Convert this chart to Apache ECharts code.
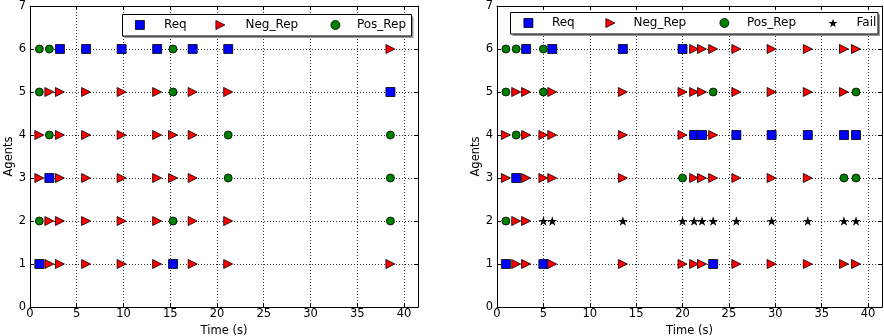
<!DOCTYPE html>
<html>
<head>
<meta charset="utf-8">
<script src="https://cdn.jsdelivr.net/npm/echarts@6/dist/echarts.min.js"></script>
<style>
html,body{margin:0;padding:0;background:#fff;}
#chart{width:884px;height:336px;}
</style>
</head>
<body>
<div id="chart"></div>
<script>
// ---- Data (R = Req, N = Neg_Rep, P = Pos_Rep, F = Fail) ----
const xTicks = [0, 5, 10, 15, 20, 25, 30, 35, 40];
const yTicks = [0, 1, 2, 3, 4, 5, 6, 7];
const seriesNames = ['Req', 'Neg_Rep', 'Pos_Rep', 'Fail'];
const seriesCodes = ['R', 'N', 'P', 'F'];

const leftTimes = [1.0, 2.07, 3.2, 6.0, 9.8, 13.6, 15.3, 17.4, 21.2, 38.55];
const leftAgent1 = ['R','N','N','N','N','N','R','N','N','N'];
const leftAgent2 = ['P','N','N','N','N','N','P','N','N','P'];
const leftAgent3 = ['N','R','N','N','N','N','N','N','P','P'];
const leftAgent4 = ['N','P','N','N','N','N','N','N','P','P'];
const leftAgent5 = ['P','N','N','N','N','N','P','N','N','R'];
const leftAgent6 = ['P','P','R','R','R','R','P','R','R','N'];

const rightTimes = [0.96, 2.07, 3.14, 5.0, 5.96, 13.57, 20.0, 21.25, 22.1, 23.3, 25.8, 29.6, 33.5, 37.4, 38.7];
const rightAgent1 = ['R','N','N','R','N','N','N','N','N','R','N','N','N','N','N'];
const rightAgent2 = ['P','N','N','F','F','F','F','F','F','F','F','F','F','F','F'];
const rightAgent3 = ['N','R','N','N','N','N','P','N','N','N','N','N','N','P','P'];
const rightAgent4 = ['N','P','N','N','N','N','N','R','R','N','R','R','R','R','R'];
const rightAgent5 = ['P','N','N','P','N','N','N','N','N','P','N','N','N','N','P'];
const rightAgent6 = ['P','P','R','P','R','R','R','N','N','N','N','N','N','N','N'];

// ---- Styles ----
const SQR = 'path://M0,0L10,0L10,10L0,10Z';
const TRI = 'path://M0,0L10,5L0,10Z';
const STAR = 'path://M10,0L12.245,6.91L19.511,6.91L13.633,11.18L15.878,18.09L10,13.82L4.122,18.09L6.367,11.18L0.489,6.91L7.755,6.91Z';
const styleOf = {
  R: {symbol: SQR, size: 9, color: '#0000ff'},
  N: {symbol: TRI, size: 9, color: '#ff0000'},
  P: {symbol: 'circle', size: 8, color: '#008000'},
  F: {symbol: STAR, size: 10, color: '#000000'}
};
const FONT = 'DejaVu Sans';

function buildSeries(times, agents, gridIdx, codes) {
  const out = [];
  codes.forEach(code => {
    const data = [];
    agents.forEach((row, i) => {
      row.forEach((c, j) => { if (c === code) data.push([times[j], i + 1]); });
    });
    const s = styleOf[code];
    out.push({
      type: 'scatter',
      name: seriesNames[seriesCodes.indexOf(code)],
      xAxisIndex: gridIdx * 2,
      yAxisIndex: gridIdx * 2,
      symbol: s.symbol,
      symbolSize: s.size,
      symbolKeepAspect: true,
      itemStyle: {color: s.color, borderColor: '#000', borderWidth: code === 'F' ? 0 : 0.8, opacity: 1},
      emphasis: {disabled: true},
      data: data,
      z: 3
    });
  });
  return out;
}

const gridDefs = [
  {left: 30, top: 6, width: 388, height: 301},
  {left: 497, top: 6, width: 385, height: 301}
];

const xAxes = [], yAxes = [];
gridDefs.forEach((g, gi) => {
  xAxes.push({
    type: 'value', gridIndex: gi, min: 0, max: 41.5, interval: 5,
    name: 'Time (s)', nameLocation: 'middle', nameGap: 11,
    nameTextStyle: {fontFamily: FONT, fontSize: 11.5, color: '#000'},
    axisLine: {show: true, onZero: false, lineStyle: {color: '#000', width: 1}},
    axisTick: {show: true, inside: true, length: 4, lineStyle: {color: '#000'}},
    axisLabel: {fontFamily: FONT, fontSize: 11.5, color: '#000', margin: 1,
      showMaxLabel: false,
      formatter: v => (xTicks.indexOf(v) >= 0 ? String(v) : '')},
    splitLine: {show: true, lineStyle: {color: '#000', width: 0.8, type: [1, 2]}}
  });
  xAxes.push({
    type: 'value', gridIndex: gi, min: 0, max: 41.5, interval: 5, position: 'top',
    axisLine: {show: true, onZero: false, lineStyle: {color: '#000', width: 1}},
    axisTick: {show: true, inside: true, length: 4, lineStyle: {color: '#000'}},
    axisLabel: {show: false}, splitLine: {show: false}
  });
  yAxes.push({
    type: 'value', gridIndex: gi, min: 0, max: 7, interval: 1,
    name: 'Agents', nameLocation: 'middle', nameGap: 14, nameRotate: 90,
    nameTextStyle: {fontFamily: FONT, fontSize: 11.5, color: '#000'},
    axisLine: {show: true, onZero: false, lineStyle: {color: '#000', width: 1}},
    axisTick: {show: true, inside: true, length: 4, lineStyle: {color: '#000'}},
    axisLabel: {fontFamily: FONT, fontSize: 11.5, color: '#000', margin: 4,
      formatter: v => (yTicks.indexOf(v) >= 0 ? String(v) : '')},
    splitLine: {show: true, lineStyle: {color: '#000', width: 0.8, type: [1, 2]}}
  });
  yAxes.push({
    type: 'value', gridIndex: gi, min: 0, max: 7, interval: 1, position: 'right',
    axisLine: {show: true, onZero: false, lineStyle: {color: '#000', width: 1}},
    axisTick: {show: true, inside: true, length: 4, lineStyle: {color: '#000'}},
    axisLabel: {show: false}, splitLine: {show: false}
  });
});

const leftAgents = [leftAgent1, leftAgent2, leftAgent3, leftAgent4, leftAgent5, leftAgent6];
const rightAgents = [rightAgent1, rightAgent2, rightAgent3, rightAgent4, rightAgent5, rightAgent6];
const series = [].concat(
  buildSeries(leftTimes, leftAgents, 0, ['R', 'N', 'P']),
  buildSeries(rightTimes, rightAgents, 1, ['R', 'N', 'P', 'F'])
);

// one legend component per entry, so each entry sits where it does in the reference
function legendItem(name, iconCenterX, textX, centerY) {
  const s = styleOf[seriesCodes[seriesNames.indexOf(name)]];
  const gap = textX - (iconCenterX + 4.5) - 5;
  return {
    left: iconCenterX - 4.5, top: centerY - 7, orient: 'horizontal',
    itemWidth: 9, itemHeight: 9, padding: 0, z: 10,
    symbolKeepAspect: true, selectedMode: false,
    formatter: '{g|}{t|{name}}',
    textStyle: {fontFamily: FONT, fontSize: 12, color: '#000', lineHeight: 14,
      rich: {g: {width: gap, height: 14}, t: {fontFamily: FONT, fontSize: 12, color: '#000', lineHeight: 14}}},
    data: [{name: name, icon: s.symbol,
      itemStyle: {color: s.color, borderColor: '#000', borderWidth: name === 'Fail' ? 0 : 0.8}}]
  };
}
const legends = [
  legendItem('Req', 139.5, 163.5, 25), legendItem('Neg_Rep', 220, 245, 25), legendItem('Pos_Rep', 335, 356.5, 25),
  legendItem('Req', 528, 551.5, 23), legendItem('Neg_Rep', 610, 633, 23), legendItem('Pos_Rep', 724, 746.5, 23), legendItem('Fail', 833, 856.5, 23)
];

function legendBox(x, y, w, h) {
  return [
    {type: 'rect', z: 5, shape: {x: x + 2, y: y + 2, width: w, height: h}, style: {fill: '#9a9a9a'}, silent: true},
    {type: 'rect', z: 6, shape: {x: x, y: y, width: w, height: h}, style: {fill: '#fff', stroke: '#000', lineWidth: 1}, silent: true}
  ];
}

const chart = echarts.init(document.getElementById('chart'), null, {renderer: 'canvas'});
chart.setOption({
  animation: false,
  backgroundColor: '#fff',
  grid: gridDefs.map(g => Object.assign({show: false, containLabel: false, outerBoundsMode: 'none'}, g)),
  xAxis: xAxes,
  yAxis: yAxes,
  legend: legends,
  graphic: {elements: [].concat(legendBox(122.5, 14.5, 289, 21.5), legendBox(510.5, 12.5, 367.5, 21.5))},
  series: series
});
</script>
</body>
</html>
